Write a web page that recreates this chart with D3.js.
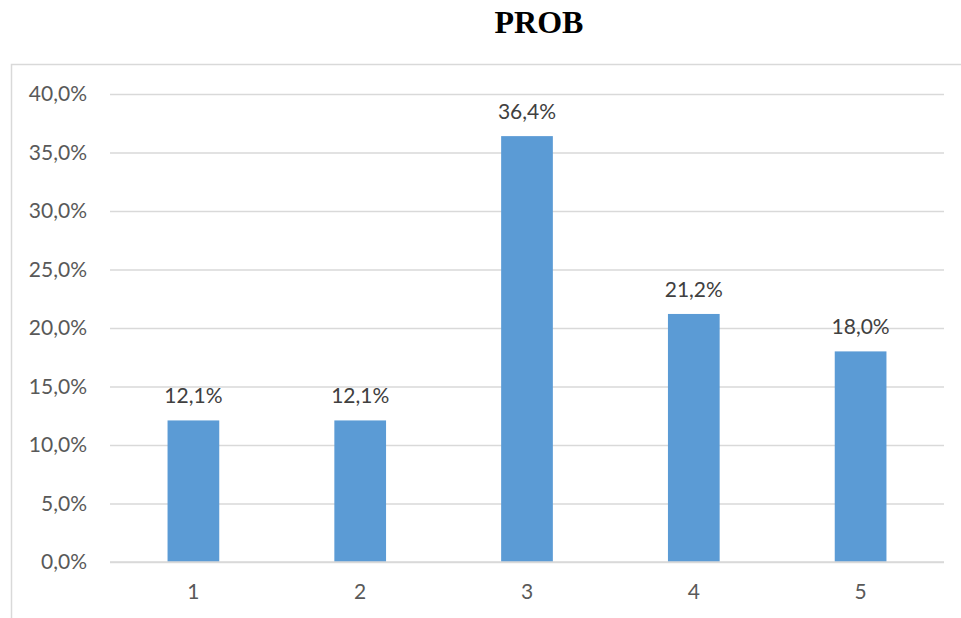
<!DOCTYPE html>
<html>
<head>
<meta charset="utf-8">
<script src="https://cdn.jsdelivr.net/npm/d3@7"></script>
<style>
  html, body { margin: 0; padding: 0; background: #fff; }
  svg { display: block; }
</style>
</head>
<body>
<svg id="chart" width="961" height="618"></svg>
<script>
// Categories and their probabilities (in %)
const categories = ["1", "2", "3", "4", "5"];
const values = [12.1, 12.1, 36.4, 21.2, 18.0];
const yTicks = [0, 5, 10, 15, 20, 25, 30, 35, 40];
const title = "PROB";

const W = 961, H = 618;
const margin = { left: 110, right: 17, top: 94, bottom: 56 };

const svg = d3.select("#chart");

// Outer chart frame (extends past the right and bottom edges)
svg.append("rect")
  .attr("x", 11.5).attr("y", 64.5)
  .attr("width", 1000).attr("height", 600)
  .attr("fill", "none")
  .attr("stroke", "#d9d9d9")
  .attr("stroke-width", 1.5);

svg.append("text")
  .attr("x", 539).attr("y", 33)
  .attr("text-anchor", "middle")
  .attr("font-family", "'Liberation Serif', 'Times New Roman', serif")
  .attr("font-weight", "bold")
  .attr("font-size", 32)
  .attr("fill", "#000")
  .text(title);

const x = d3.scaleBand()
  .domain(categories)
  .range([margin.left, W - margin.right])
  .paddingInner(0.69)
  .paddingOuter(0.345);

const y = d3.scaleLinear()
  .domain([0, 40])
  .range([H - margin.bottom, margin.top]);

const fmt = v => d3.format(".1f")(v).replace(".", ",") + "%";

// Gridlines and y tick labels
const yAxis = d3.axisLeft(y)
  .tickValues(yTicks)
  .tickSize(-(W - margin.right - margin.left))
  .tickPadding(23)
  .tickFormat(fmt);

const gy = svg.append("g")
  .attr("transform", `translate(${margin.left},0)`)
  .call(yAxis);
gy.select(".domain").remove();
gy.selectAll(".tick line")
  .attr("stroke", "#d9d9d9")
  .attr("stroke-width", 1.3);
gy.selectAll(".tick text")
  .attr("fill", "#595959")
  .attr("font-family", "Lato, 'Open Sans', sans-serif")
  .attr("font-size", 21);

// Category axis
const xAxis = d3.axisBottom(x).tickSize(0).tickPadding(22);
const gx = svg.append("g")
  .attr("transform", `translate(0,${H - margin.bottom})`)
  .call(xAxis);
gx.select(".domain").remove();
gx.selectAll(".tick text")
  .attr("fill", "#595959")
  .attr("font-family", "Lato, 'Open Sans', sans-serif")
  .attr("font-size", 21);

// Bars
svg.append("g")
  .selectAll("rect")
  .data(values)
  .join("rect")
  .attr("x", (d, i) => x(categories[i]))
  .attr("width", x.bandwidth())
  .attr("y", d => y(d))
  .attr("height", d => y(0) - y(d))
  .attr("fill", "#5b9bd5");

// Baseline over the bars
svg.append("line")
  .attr("x1", margin.left).attr("x2", W - margin.right)
  .attr("y1", y(0)).attr("y2", y(0))
  .attr("stroke", "#d9d9d9")
  .attr("stroke-width", 1.3);

// Value labels
svg.append("g")
  .selectAll("text")
  .data(values)
  .join("text")
  .attr("x", (d, i) => x(categories[i]) + x.bandwidth() / 2)
  .attr("y", d => y(d) - 17)
  .attr("text-anchor", "middle")
  .attr("fill", "#404040")
  .attr("font-family", "Lato, 'Open Sans', sans-serif")
  .attr("font-size", 21)
  .text(fmt);
</script>
</body>
</html>
